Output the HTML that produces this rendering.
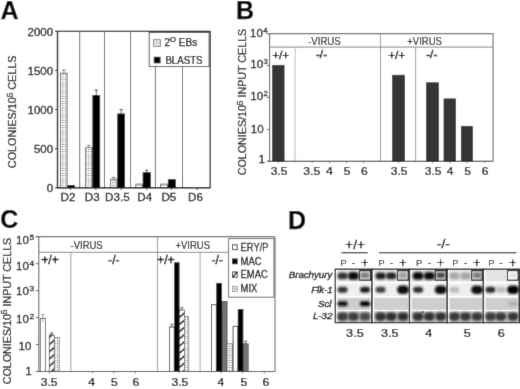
<!DOCTYPE html>
<html><head><meta charset="utf-8"><style>
html,body{margin:0;padding:0;background:#fff;width:520px;height:389px;overflow:hidden;}
svg{display:block;font-family:"Liberation Sans", sans-serif;will-change:transform;}
text{stroke:#000;stroke-width:0.25px;}
</style></head><body>
<svg width="520" height="389" viewBox="0 0 520 389" font-family='"Liberation Sans", sans-serif'>
<defs>
<pattern id="dots" width="2.6" height="2.4" patternUnits="userSpaceOnUse">
  <rect width="2.6" height="2.4" fill="#fff"/>
  <rect x="0" y="0" width="2.6" height="0.6" fill="#d4d4d4"/>
  <rect x="0" y="0" width="0.6" height="2.4" fill="#dedede"/>
  <rect x="0" y="0" width="1.0" height="0.9" fill="#666"/>
</pattern>
<pattern id="hatch" width="5.4" height="5.4" patternUnits="userSpaceOnUse" patternTransform="rotate(-41)">
  <rect width="5.4" height="5.4" fill="#fff"/>
  <rect x="0" y="0" width="5.4" height="1.5" fill="#111"/>
</pattern>
<pattern id="check" width="2" height="2" patternUnits="userSpaceOnUse">
  <rect width="2" height="2" fill="#8a8a8a"/>
  <rect width="1" height="1" fill="#555"/>
  <rect x="1" y="1" width="1" height="1" fill="#606060"/>
</pattern>
<filter id="blur1" x="-50%" y="-50%" width="200%" height="200%"><feGaussianBlur stdDeviation="0.9"/></filter>
<filter id="blur05"><feGaussianBlur stdDeviation="0.5"/></filter>
<filter id="gb" x="0" y="0" width="520" height="389" filterUnits="userSpaceOnUse"><feConvolveMatrix order="3" kernelMatrix="0.01134 0.08382 0.01134 0.08382 0.61935 0.08382 0.01134 0.08382 0.01134" edgeMode="duplicate"/></filter></defs>
<g filter="url(#gb)"><rect width="520" height="389" fill="#fff"/><text x="0.5" y="18.6" font-size="25" text-anchor="start" font-weight="bold" font-style="normal" fill="#000" >A</text>
<text transform="translate(16.2,111.8) rotate(-90)" font-size="10.8" text-anchor="middle">COLONIES/10<tspan font-size="8.4" dy="-3.4">5</tspan><tspan dy="3.4"> CELLS</tspan></text>
<line x1="55" y1="187.7" x2="57.5" y2="187.7" stroke="#000" stroke-width="1"/>
<text transform="translate(53.0,192.2) scale(1.04,1)" font-size="11" text-anchor="end" font-weight="normal" font-style="normal" fill="#000" >0</text>
<line x1="55" y1="148.6" x2="57.5" y2="148.6" stroke="#000" stroke-width="1"/>
<text transform="translate(53.0,153.1) scale(1.04,1)" font-size="11" text-anchor="end" font-weight="normal" font-style="normal" fill="#000" >500</text>
<line x1="55" y1="109.5" x2="57.5" y2="109.5" stroke="#000" stroke-width="1"/>
<text transform="translate(53.0,114.0) scale(1.04,1)" font-size="11" text-anchor="end" font-weight="normal" font-style="normal" fill="#000" >1000</text>
<line x1="55" y1="70.4" x2="57.5" y2="70.4" stroke="#000" stroke-width="1"/>
<text transform="translate(53.0,74.9) scale(1.04,1)" font-size="11" text-anchor="end" font-weight="normal" font-style="normal" fill="#000" >1500</text>
<line x1="55" y1="31.30000000000001" x2="57.5" y2="31.30000000000001" stroke="#000" stroke-width="1"/>
<text transform="translate(53.0,35.80000000000001) scale(1.04,1)" font-size="11" text-anchor="end" font-weight="normal" font-style="normal" fill="#000" >2000</text>
<line x1="79.7" y1="31.3" x2="79.7" y2="187.7" stroke="#666" stroke-width="1.0"/>
<line x1="104.5" y1="31.3" x2="104.5" y2="187.7" stroke="#666" stroke-width="1.0"/>
<line x1="130.5" y1="31.3" x2="130.5" y2="187.7" stroke="#666" stroke-width="1.0"/>
<line x1="155.4" y1="31.3" x2="155.4" y2="187.7" stroke="#666" stroke-width="1.0"/>
<line x1="182.5" y1="31.3" x2="182.5" y2="187.7" stroke="#666" stroke-width="1.0"/>
<rect x="60.5" y="73.2" width="6.599999999999994" height="114.49999999999999" fill="url(#dots)" stroke="#555" stroke-width="0.8" />
<line x1="63.8" y1="70.1" x2="63.8" y2="73.2" stroke="#666" stroke-width="0.8"/>
<line x1="62.0" y1="70.1" x2="65.6" y2="70.1" stroke="#666" stroke-width="0.9"/>
<rect x="67.5" y="185.1" width="7.5" height="2.5999999999999943" fill="#000" stroke="none" stroke-width="1" />
<rect x="85.4" y="147.7" width="6.599999999999994" height="40.0" fill="url(#dots)" stroke="#555" stroke-width="0.8" />
<line x1="88.7" y1="145.4" x2="88.7" y2="147.7" stroke="#666" stroke-width="0.8"/>
<line x1="86.9" y1="145.4" x2="90.5" y2="145.4" stroke="#666" stroke-width="0.9"/>
<rect x="92.4" y="95.0" width="7.699999999999989" height="92.69999999999999" fill="#000" stroke="none" stroke-width="1" />
<line x1="96.25" y1="90.0" x2="96.25" y2="95.0" stroke="#444" stroke-width="0.9"/>
<line x1="94.45" y1="90.0" x2="98.05" y2="90.0" stroke="#444" stroke-width="0.9"/>
<rect x="110.4" y="179.2" width="6.499999999999986" height="8.5" fill="url(#dots)" stroke="#555" stroke-width="0.8" />
<line x1="113.65" y1="177.4" x2="113.65" y2="179.2" stroke="#666" stroke-width="0.8"/>
<line x1="111.85000000000001" y1="177.4" x2="115.45" y2="177.4" stroke="#666" stroke-width="0.9"/>
<rect x="117.3" y="113.5" width="7.700000000000003" height="74.19999999999999" fill="#000" stroke="none" stroke-width="1" />
<line x1="121.15" y1="109.5" x2="121.15" y2="113.5" stroke="#444" stroke-width="0.9"/>
<line x1="119.35000000000001" y1="109.5" x2="122.95" y2="109.5" stroke="#444" stroke-width="0.9"/>
<rect x="135.8" y="184.1" width="6.499999999999972" height="3.5999999999999943" fill="url(#dots)" stroke="#555" stroke-width="0.8" />
<rect x="142.7" y="172.2" width="8.100000000000023" height="15.5" fill="#000" stroke="none" stroke-width="1" />
<line x1="146.75" y1="170.2" x2="146.75" y2="172.2" stroke="#444" stroke-width="0.9"/>
<line x1="144.95" y1="170.2" x2="148.55" y2="170.2" stroke="#444" stroke-width="0.9"/>
<rect x="160.6" y="184.1" width="6.900000000000006" height="3.5999999999999943" fill="url(#dots)" stroke="#555" stroke-width="0.8" />
<rect x="167.9" y="179.2" width="7.900000000000006" height="8.5" fill="#000" stroke="none" stroke-width="1" />
<line x1="57.5" y1="31.2" x2="57.5" y2="188.2" stroke="#000" stroke-width="1.4"/>
<line x1="57" y1="31.3" x2="210.5" y2="31.3" stroke="#000" stroke-width="1.3"/>
<line x1="210.2" y1="31.3" x2="210.2" y2="187.7" stroke="#111" stroke-width="1.2"/>
<line x1="57" y1="187.7" x2="210.5" y2="187.7" stroke="#000" stroke-width="1.4"/>
<line x1="70.4" y1="187.7" x2="70.4" y2="189.89999999999998" stroke="#000" stroke-width="0.8"/>
<line x1="95.8" y1="187.7" x2="95.8" y2="189.89999999999998" stroke="#000" stroke-width="0.8"/>
<line x1="121.2" y1="187.7" x2="121.2" y2="189.89999999999998" stroke="#000" stroke-width="0.8"/>
<line x1="146.6" y1="187.7" x2="146.6" y2="189.89999999999998" stroke="#000" stroke-width="0.8"/>
<line x1="171.5" y1="187.7" x2="171.5" y2="189.89999999999998" stroke="#000" stroke-width="0.8"/>
<line x1="197.3" y1="187.7" x2="197.3" y2="189.89999999999998" stroke="#000" stroke-width="0.8"/>
<text transform="translate(60.5,201.3) scale(1.06,1)" font-size="11" text-anchor="start" font-weight="normal" font-style="normal" fill="#000" >D2</text>
<text transform="translate(84.8,201.3) scale(1.06,1)" font-size="11" text-anchor="start" font-weight="normal" font-style="normal" fill="#000" >D3</text>
<text transform="translate(105.1,201.3) scale(1.06,1)" font-size="11" text-anchor="start" font-weight="normal" font-style="normal" fill="#000" >D3.5</text>
<text transform="translate(137.3,201.3) scale(1.06,1)" font-size="11" text-anchor="start" font-weight="normal" font-style="normal" fill="#000" >D4</text>
<text transform="translate(161.4,201.3) scale(1.06,1)" font-size="11" text-anchor="start" font-weight="normal" font-style="normal" fill="#000" >D5</text>
<text transform="translate(188.0,201.3) scale(1.06,1)" font-size="11" text-anchor="start" font-weight="normal" font-style="normal" fill="#000" >D6</text>
<rect x="149.2" y="32.5" width="59.900000000000006" height="34.099999999999994" fill="#fff" stroke="#444" stroke-width="0.9" />
<rect x="153.6" y="39.7" width="6.800000000000011" height="6.599999999999994" fill="url(#dots)" stroke="#666" stroke-width="0.8" />
<text x="164.4" y="45.9" font-size="10" text-anchor="start" font-weight="normal" font-style="normal" fill="#000" >2<tspan font-size="7.8" dy="-4.0">O</tspan><tspan dy="4.0"> EBs</tspan></text>
<rect x="153.8" y="56.8" width="6.699999999999989" height="6.5" fill="#000" stroke="none" stroke-width="1" />
<text transform="translate(165.4,63.5) scale(0.97,1)" font-size="10" text-anchor="start" font-weight="normal" font-style="normal" fill="#000" >BLASTS</text>
<text x="236.0" y="18.9" font-size="25" text-anchor="start" font-weight="bold" font-style="normal" fill="#000" >B</text>
<text transform="translate(246.0,102.0) rotate(-90)" font-size="10.7" text-anchor="middle">COLONIES/10<tspan font-size="8.4" dy="-3.4">5</tspan><tspan dy="3.4"> INPUT CELLS</tspan></text>
<line x1="267.1" y1="33.6" x2="269.6" y2="33.6" stroke="#333" stroke-width="0.9"/>
<line x1="267.1" y1="65.525" x2="269.6" y2="65.525" stroke="#333" stroke-width="0.9"/>
<line x1="267.1" y1="97.45000000000002" x2="269.6" y2="97.45000000000002" stroke="#333" stroke-width="0.9"/>
<line x1="267.1" y1="129.375" x2="269.6" y2="129.375" stroke="#333" stroke-width="0.9"/>
<line x1="267.1" y1="161.3" x2="269.6" y2="161.3" stroke="#333" stroke-width="0.9"/>
<text transform="translate(250.1,36.8) scale(1.05,1)" font-size="11" text-anchor="start" font-weight="normal" font-style="normal" fill="#000" >10<tspan font-size="7.4" dx="0.3" dy="-3.9">4</tspan></text>
<text transform="translate(250.3,67.5) scale(1.05,1)" font-size="11" text-anchor="start" font-weight="normal" font-style="normal" fill="#000" >10<tspan font-size="7.4" dx="0.3" dy="-3.9">3</tspan></text>
<text transform="translate(250.3,99.6) scale(1.05,1)" font-size="11" text-anchor="start" font-weight="normal" font-style="normal" fill="#000" >10<tspan font-size="7.4" dx="0.3" dy="-3.9">2</tspan></text>
<text transform="translate(263.6,132.6) scale(1.05,1)" font-size="11" text-anchor="end" font-weight="normal" font-style="normal" fill="#000" >10</text>
<text transform="translate(264.8,163.1) scale(1.05,1)" font-size="11" text-anchor="end" font-weight="normal" font-style="normal" fill="#000" >1</text>
<rect x="272.5" y="65.3" width="11.599999999999966" height="96.00000000000001" fill="#353535" stroke="#1e1e1e" stroke-width="0.7" />
<rect x="392.6" y="75.2" width="11.999999999999943" height="86.10000000000001" fill="#353535" stroke="#1e1e1e" stroke-width="0.7" />
<rect x="426.40000000000003" y="82.8" width="12.199999999999932" height="78.50000000000001" fill="#353535" stroke="#1e1e1e" stroke-width="0.7" />
<rect x="444.0" y="98.89999999999999" width="11.599999999999966" height="62.40000000000002" fill="#353535" stroke="#1e1e1e" stroke-width="0.7" />
<rect x="461.3" y="126.3" width="11.299999999999955" height="35.000000000000014" fill="#353535" stroke="#1e1e1e" stroke-width="0.7" />
<line x1="295.1" y1="47.1" x2="295.1" y2="161.3" stroke="#bbb" stroke-width="1"/>
<line x1="415.6" y1="47.1" x2="415.6" y2="161.3" stroke="#999" stroke-width="0.9"/>
<line x1="380.5" y1="33.6" x2="380.5" y2="161.3" stroke="#999" stroke-width="1"/>
<line x1="269.6" y1="33.6" x2="269.6" y2="161.3" stroke="#444" stroke-width="1"/>
<line x1="267.1" y1="33.6" x2="493.1" y2="33.6" stroke="#666" stroke-width="1.2"/>
<line x1="269.6" y1="47.1" x2="493.1" y2="47.1" stroke="#777" stroke-width="0.9"/>
<line x1="493.1" y1="33.6" x2="493.1" y2="161.3" stroke="#777" stroke-width="1.2"/>
<line x1="267.6" y1="161.3" x2="493.1" y2="161.3" stroke="#222" stroke-width="1.1"/>
<line x1="278.5" y1="161.3" x2="278.5" y2="163.10000000000002" stroke="#555" stroke-width="0.8"/>
<line x1="312.2" y1="161.3" x2="312.2" y2="163.10000000000002" stroke="#555" stroke-width="0.8"/>
<line x1="329.6" y1="161.3" x2="329.6" y2="163.10000000000002" stroke="#555" stroke-width="0.8"/>
<line x1="346.5" y1="161.3" x2="346.5" y2="163.10000000000002" stroke="#555" stroke-width="0.8"/>
<line x1="363.5" y1="161.3" x2="363.5" y2="163.10000000000002" stroke="#555" stroke-width="0.8"/>
<line x1="398.6" y1="161.3" x2="398.6" y2="163.10000000000002" stroke="#555" stroke-width="0.8"/>
<line x1="432.5" y1="161.3" x2="432.5" y2="163.10000000000002" stroke="#555" stroke-width="0.8"/>
<line x1="449.8" y1="161.3" x2="449.8" y2="163.10000000000002" stroke="#555" stroke-width="0.8"/>
<line x1="467" y1="161.3" x2="467" y2="163.10000000000002" stroke="#555" stroke-width="0.8"/>
<line x1="484.6" y1="161.3" x2="484.6" y2="163.10000000000002" stroke="#555" stroke-width="0.8"/>
<text transform="translate(324.4,44.8) scale(0.96,1)" font-size="10" text-anchor="middle" font-weight="normal" font-style="normal" fill="#000" style="stroke-width:0.12px">-VIRUS</text>
<text transform="translate(424.6,44.8) scale(0.95,1)" font-size="10" text-anchor="middle" font-weight="normal" font-style="normal" fill="#000" style="stroke-width:0.12px">+VIRUS</text>
<text x="280.7" y="58.6" font-size="11.8" text-anchor="middle" font-weight="normal" font-style="normal" fill="#000" style="stroke-width:0.38px">+/+</text>
<text x="321.5" y="57.8" font-size="11.8" text-anchor="middle" font-weight="normal" font-style="normal" fill="#000" style="stroke-width:0.38px">-/-</text>
<text x="396.7" y="58.6" font-size="11.8" text-anchor="middle" font-weight="normal" font-style="normal" fill="#000" style="stroke-width:0.38px">+/+</text>
<text x="431.75" y="57.8" font-size="11.8" text-anchor="middle" font-weight="normal" font-style="normal" fill="#000" style="stroke-width:0.38px">-/-</text>
<text transform="translate(279.05,174.8) scale(1.1,1)" font-size="11" text-anchor="middle" font-weight="normal" font-style="normal" fill="#000" >3.5</text>
<text transform="translate(311.75,174.8) scale(1.1,1)" font-size="11" text-anchor="middle" font-weight="normal" font-style="normal" fill="#000" >3.5</text>
<text transform="translate(329.45,174.8) scale(1.1,1)" font-size="11" text-anchor="middle" font-weight="normal" font-style="normal" fill="#000" >4</text>
<text transform="translate(347.15,174.8) scale(1.1,1)" font-size="11" text-anchor="middle" font-weight="normal" font-style="normal" fill="#000" >5</text>
<text transform="translate(364.4,174.8) scale(1.1,1)" font-size="11" text-anchor="middle" font-weight="normal" font-style="normal" fill="#000" >6</text>
<text transform="translate(399.1,174.8) scale(1.1,1)" font-size="11" text-anchor="middle" font-weight="normal" font-style="normal" fill="#000" >3.5</text>
<text transform="translate(433.1,174.8) scale(1.1,1)" font-size="11" text-anchor="middle" font-weight="normal" font-style="normal" fill="#000" >3.5</text>
<text transform="translate(450.1,174.8) scale(1.1,1)" font-size="11" text-anchor="middle" font-weight="normal" font-style="normal" fill="#000" >4</text>
<text transform="translate(467.7,174.8) scale(1.1,1)" font-size="11" text-anchor="middle" font-weight="normal" font-style="normal" fill="#000" >5</text>
<text transform="translate(485.05,174.8) scale(1.1,1)" font-size="11" text-anchor="middle" font-weight="normal" font-style="normal" fill="#000" >6</text>
<text x="0.2" y="228.0" font-size="25" text-anchor="start" font-weight="bold" font-style="normal" fill="#000" >C</text>
<text transform="translate(10.7,311.0) rotate(-90)" font-size="10.7" text-anchor="middle">COLONIES/10<tspan font-size="8.4" dy="-3.4">5</tspan><tspan dy="3.4"> INPUT CELLS</tspan></text>
<line x1="35.8" y1="236.7" x2="38.8" y2="236.7" stroke="#444" stroke-width="0.9"/>
<line x1="35.8" y1="263.65999999999997" x2="38.8" y2="263.65999999999997" stroke="#444" stroke-width="0.9"/>
<line x1="35.8" y1="290.62" x2="38.8" y2="290.62" stroke="#444" stroke-width="0.9"/>
<line x1="35.8" y1="317.58" x2="38.8" y2="317.58" stroke="#444" stroke-width="0.9"/>
<line x1="35.8" y1="344.53999999999996" x2="38.8" y2="344.53999999999996" stroke="#444" stroke-width="0.9"/>
<line x1="35.8" y1="371.5" x2="38.8" y2="371.5" stroke="#444" stroke-width="0.9"/>
<text transform="translate(16.0,244.2) scale(1.05,1)" font-size="11" text-anchor="start" font-weight="normal" font-style="normal" fill="#000" >10<tspan font-size="8" dx="0.6" dy="-4.2">5</tspan></text>
<text transform="translate(16.0,269.8) scale(1.05,1)" font-size="11" text-anchor="start" font-weight="normal" font-style="normal" fill="#000" >10<tspan font-size="8" dx="0.6" dy="-4.2">4</tspan></text>
<text transform="translate(16.0,295.1) scale(1.05,1)" font-size="11" text-anchor="start" font-weight="normal" font-style="normal" fill="#000" >10<tspan font-size="8" dx="0.6" dy="-4.2">3</tspan></text>
<text transform="translate(16.0,322.7) scale(1.05,1)" font-size="11" text-anchor="start" font-weight="normal" font-style="normal" fill="#000" >10<tspan font-size="8" dx="0.6" dy="-4.2">2</tspan></text>
<text transform="translate(31.4,350.3) scale(1.05,1)" font-size="11" text-anchor="end" font-weight="normal" font-style="normal" fill="#000" >10</text>
<text transform="translate(31.6,374.6) scale(1.05,1)" font-size="11" text-anchor="end" font-weight="normal" font-style="normal" fill="#000" >1</text>
<rect x="40.3" y="318.4" width="5.100000000000001" height="53.10000000000002" fill="#fff" stroke="#555" stroke-width="0.9" />
<line x1="42.8" y1="314.6" x2="42.8" y2="318.4" stroke="#777" stroke-width="0.8"/>
<line x1="41.3" y1="314.6" x2="44.3" y2="314.6" stroke="#777" stroke-width="0.9"/>
<line x1="42.8" y1="318.4" x2="42.8" y2="322.2" stroke="#888" stroke-width="0.7"/>
<rect x="49.2" y="334.9" width="5.0" height="36.60000000000002" fill="url(#hatch)" stroke="#222" stroke-width="0.6" />
<line x1="51.7" y1="332.8" x2="51.7" y2="334.9" stroke="#444" stroke-width="0.8"/>
<line x1="50.2" y1="332.8" x2="53.2" y2="332.8" stroke="#444" stroke-width="0.9"/>
<rect x="54.2" y="337.5" width="5.0" height="34.0" fill="url(#dots)" stroke="#555" stroke-width="0.6" />
<rect x="169.4" y="327.0" width="4.799999999999983" height="44.5" fill="#fff" stroke="#222" stroke-width="0.8" />
<line x1="171.8" y1="324.3" x2="171.8" y2="327.0" stroke="#444" stroke-width="0.8"/>
<line x1="170.3" y1="324.3" x2="173.3" y2="324.3" stroke="#444" stroke-width="0.9"/>
<rect x="174.2" y="262.3" width="5.300000000000011" height="109.19999999999999" fill="#000" stroke="none" stroke-width="1" />
<rect x="179.5" y="310.0" width="4.800000000000011" height="61.5" fill="url(#hatch)" stroke="#222" stroke-width="0.6" />
<line x1="181.9" y1="307.6" x2="181.9" y2="310.0" stroke="#444" stroke-width="0.8"/>
<line x1="180.4" y1="307.6" x2="183.4" y2="307.6" stroke="#444" stroke-width="0.9"/>
<rect x="184.3" y="316.5" width="4.5" height="55.0" fill="url(#dots)" stroke="#555" stroke-width="0.6" />
<rect x="211.6" y="304.7" width="4.700000000000017" height="66.80000000000001" fill="#fff" stroke="#222" stroke-width="0.8" />
<rect x="216.3" y="282.9" width="5.699999999999989" height="88.60000000000002" fill="#000" stroke="none" stroke-width="1" />
<rect x="222.0" y="301.3" width="5.099999999999994" height="70.19999999999999" fill="url(#check)" stroke="#333" stroke-width="0.6" />
<rect x="227.1" y="343.8" width="5.300000000000011" height="27.69999999999999" fill="url(#dots)" stroke="#555" stroke-width="0.6" />
<rect x="233.1" y="326.3" width="4.700000000000017" height="45.19999999999999" fill="#fff" stroke="#222" stroke-width="0.8" />
<rect x="237.8" y="309.0" width="5.5" height="62.5" fill="#000" stroke="none" stroke-width="1" />
<rect x="243.3" y="343.8" width="4.899999999999977" height="27.69999999999999" fill="url(#check)" stroke="#333" stroke-width="0.6" />
<line x1="245.7" y1="341.3" x2="245.7" y2="343.8" stroke="#444" stroke-width="0.8"/>
<line x1="244.2" y1="341.3" x2="247.2" y2="341.3" stroke="#444" stroke-width="0.9"/>
<line x1="70.8" y1="252.3" x2="70.8" y2="371.5" stroke="#999" stroke-width="1"/>
<line x1="200.1" y1="252.3" x2="200.1" y2="371.5" stroke="#aaa" stroke-width="1"/>
<line x1="157.5" y1="236.7" x2="157.5" y2="371.5" stroke="#999" stroke-width="1"/>
<line x1="38.8" y1="236.7" x2="38.8" y2="371.5" stroke="#555" stroke-width="1"/>
<line x1="35.8" y1="236.7" x2="275.0" y2="236.7" stroke="#666" stroke-width="1.2"/>
<line x1="38.8" y1="252.3" x2="275.0" y2="252.3" stroke="#777" stroke-width="0.9"/>
<line x1="275.0" y1="236.7" x2="275.0" y2="371.5" stroke="#777" stroke-width="1.2"/>
<line x1="36.8" y1="371.5" x2="275.0" y2="371.5" stroke="#333" stroke-width="1.1"/>
<line x1="49.5" y1="371.5" x2="49.5" y2="373.3" stroke="#555" stroke-width="0.8"/>
<line x1="92.5" y1="371.5" x2="92.5" y2="373.3" stroke="#555" stroke-width="0.8"/>
<line x1="113.8" y1="371.5" x2="113.8" y2="373.3" stroke="#555" stroke-width="0.8"/>
<line x1="135.4" y1="371.5" x2="135.4" y2="373.3" stroke="#555" stroke-width="0.8"/>
<line x1="179" y1="371.5" x2="179" y2="373.3" stroke="#555" stroke-width="0.8"/>
<line x1="221" y1="371.5" x2="221" y2="373.3" stroke="#555" stroke-width="0.8"/>
<line x1="242.5" y1="371.5" x2="242.5" y2="373.3" stroke="#555" stroke-width="0.8"/>
<line x1="264.3" y1="371.5" x2="264.3" y2="373.3" stroke="#555" stroke-width="0.8"/>
<text transform="translate(86.6,248.8) scale(0.95,1)" font-size="10" text-anchor="middle" font-weight="normal" font-style="normal" fill="#000" style="stroke-width:0.12px">-VIRUS</text>
<text transform="translate(192.7,248.8) scale(0.95,1)" font-size="10" text-anchor="middle" font-weight="normal" font-style="normal" fill="#000" style="stroke-width:0.12px">+VIRUS</text>
<text x="50.05" y="263.7" font-size="12.2" text-anchor="middle" font-weight="normal" font-style="normal" fill="#000" style="stroke-width:0.35px">+/+</text>
<text x="113.85" y="263.7" font-size="12.2" text-anchor="middle" font-weight="normal" font-style="normal" fill="#000" style="stroke-width:0.35px">-/-</text>
<text x="165.9" y="263.7" font-size="12.2" text-anchor="middle" font-weight="normal" font-style="normal" fill="#000" style="stroke-width:0.35px">+/+</text>
<text x="217.25" y="263.7" font-size="12.2" text-anchor="middle" font-weight="normal" font-style="normal" fill="#000" style="stroke-width:0.35px">-/-</text>
<text transform="translate(49.2,385.9) scale(1.1,1)" font-size="11" text-anchor="middle" font-weight="normal" font-style="normal" fill="#000" >3.5</text>
<text transform="translate(91.6,385.9) scale(1.1,1)" font-size="11" text-anchor="middle" font-weight="normal" font-style="normal" fill="#000" >4</text>
<text transform="translate(114.4,385.9) scale(1.1,1)" font-size="11" text-anchor="middle" font-weight="normal" font-style="normal" fill="#000" >5</text>
<text transform="translate(135.75,385.9) scale(1.1,1)" font-size="11" text-anchor="middle" font-weight="normal" font-style="normal" fill="#000" >6</text>
<text transform="translate(179.9,385.9) scale(1.1,1)" font-size="11" text-anchor="middle" font-weight="normal" font-style="normal" fill="#000" >3.5</text>
<text transform="translate(220.8,385.9) scale(1.1,1)" font-size="11" text-anchor="middle" font-weight="normal" font-style="normal" fill="#000" >4</text>
<text transform="translate(243.8,385.9) scale(1.1,1)" font-size="11" text-anchor="middle" font-weight="normal" font-style="normal" fill="#000" >5</text>
<text transform="translate(265.9,385.9) scale(1.1,1)" font-size="11" text-anchor="middle" font-weight="normal" font-style="normal" fill="#000" >6</text>
<rect x="228.6" y="238.6" width="45.400000000000006" height="58.599999999999994" fill="#fff" stroke="#555" stroke-width="0.9" />
<rect x="232.5" y="244.8" width="4.699999999999989" height="4.799999999999983" fill="#fff" stroke="#222" stroke-width="0.9" />
<text transform="translate(240.6,251.0) scale(0.87,1)" font-size="10.8" text-anchor="start" font-weight="normal" font-style="normal" fill="#000" >ERY/P</text>
<rect x="232.1" y="258.5" width="5.5" height="5.699999999999989" fill="#000" stroke="none" stroke-width="1" />
<text transform="translate(240.6,264.5) scale(0.87,1)" font-size="10.8" text-anchor="start" font-weight="normal" font-style="normal" fill="#000" >MAC</text>
<rect x="232.5" y="272.0" width="4.699999999999989" height="5.300000000000011" fill="#fff" stroke="#222" stroke-width="0.9" />
<line x1="232.5" y1="277.3" x2="237.2" y2="272.0" stroke="#000" stroke-width="1.3"/>
<text transform="translate(240.6,278.4) scale(0.87,1)" font-size="10.8" text-anchor="start" font-weight="normal" font-style="normal" fill="#000" >EMAC</text>
<rect x="232.5" y="286.3" width="4.699999999999989" height="5.099999999999966" fill="#fff" stroke="#888" stroke-width="0.8" />
<line x1="234.85" y1="286.3" x2="234.85" y2="291.4" stroke="#999" stroke-width="0.7"/>
<line x1="232.5" y1="288.85" x2="237.2" y2="288.85" stroke="#999" stroke-width="0.7"/>
<text transform="translate(240.6,292.3) scale(0.87,1)" font-size="10.8" text-anchor="start" font-weight="normal" font-style="normal" fill="#000" >MIX</text>
<text x="288.0" y="228.5" font-size="25" text-anchor="start" font-weight="bold" font-style="normal" fill="#000" >D</text>
<text transform="translate(355.2,248.7) scale(1.05,1)" font-size="13" text-anchor="middle" font-weight="normal" font-style="normal" fill="#000" style="stroke-width:0.28px">+/+</text>
<line x1="341.5" y1="252.7" x2="367.6" y2="252.7" stroke="#000" stroke-width="1.1"/>
<text transform="translate(443.35,248.4) scale(1.05,1)" font-size="13" text-anchor="middle" font-weight="normal" font-style="normal" fill="#000" style="stroke-width:0.28px">-/-</text>
<line x1="379.0" y1="252.7" x2="516.4" y2="252.7" stroke="#000" stroke-width="1.1"/>
<text x="343.5" y="266.1" font-size="9.2" text-anchor="middle" font-weight="normal" font-style="normal" fill="#000" style="stroke-width:0.05px">P</text>
<text x="353.5" y="266.0" font-size="10" text-anchor="middle" font-weight="normal" font-style="normal" fill="#000" >-</text>
<text x="364.7" y="267.1" font-size="12" text-anchor="middle" font-weight="normal" font-style="normal" fill="#000" >+</text>
<text x="381.5" y="266.1" font-size="9.2" text-anchor="middle" font-weight="normal" font-style="normal" fill="#000" style="stroke-width:0.05px">P</text>
<text x="391.3" y="266.0" font-size="10" text-anchor="middle" font-weight="normal" font-style="normal" fill="#000" >-</text>
<text x="402.7" y="267.1" font-size="12" text-anchor="middle" font-weight="normal" font-style="normal" fill="#000" >+</text>
<text x="419.0" y="266.1" font-size="9.2" text-anchor="middle" font-weight="normal" font-style="normal" fill="#000" style="stroke-width:0.05px">P</text>
<text x="429.40000000000003" y="266.0" font-size="10" text-anchor="middle" font-weight="normal" font-style="normal" fill="#000" >-</text>
<text x="440.4" y="267.1" font-size="12" text-anchor="middle" font-weight="normal" font-style="normal" fill="#000" >+</text>
<text x="455.4" y="266.1" font-size="9.2" text-anchor="middle" font-weight="normal" font-style="normal" fill="#000" style="stroke-width:0.05px">P</text>
<text x="465.70000000000005" y="266.0" font-size="10" text-anchor="middle" font-weight="normal" font-style="normal" fill="#000" >-</text>
<text x="476.8" y="267.1" font-size="12" text-anchor="middle" font-weight="normal" font-style="normal" fill="#000" >+</text>
<text x="491.4" y="266.1" font-size="9.2" text-anchor="middle" font-weight="normal" font-style="normal" fill="#000" style="stroke-width:0.05px">P</text>
<text x="500.90000000000003" y="266.0" font-size="10" text-anchor="middle" font-weight="normal" font-style="normal" fill="#000" >-</text>
<text x="512.7" y="267.1" font-size="12" text-anchor="middle" font-weight="normal" font-style="normal" fill="#000" >+</text>
<text x="332.3" y="277.8" font-size="9.7" text-anchor="end" font-weight="normal" font-style="italic" fill="#000" style="stroke-width:0.35px">Brachyury</text>
<text x="332.7" y="293.3" font-size="9.7" text-anchor="end" font-weight="normal" font-style="italic" fill="#000" style="stroke-width:0.35px">Flk-1</text>
<text x="331.40000000000003" y="307.3" font-size="9.7" text-anchor="end" font-weight="normal" font-style="italic" fill="#000" style="stroke-width:0.35px">Scl</text>
<text x="332.3" y="319.4" font-size="9.7" text-anchor="end" font-weight="normal" font-style="italic" fill="#000" style="stroke-width:0.35px">L-32</text>
<text transform="translate(354.9,336.9) scale(1.15,1)" font-size="11" text-anchor="middle" font-weight="normal" font-style="normal" fill="#000" >3.5</text>
<text transform="translate(389.8,336.9) scale(1.15,1)" font-size="11" text-anchor="middle" font-weight="normal" font-style="normal" fill="#000" >3.5</text>
<text transform="translate(428.75,336.9) scale(1.15,1)" font-size="11" text-anchor="middle" font-weight="normal" font-style="normal" fill="#000" >4</text>
<text transform="translate(467.25,336.9) scale(1.15,1)" font-size="11" text-anchor="middle" font-weight="normal" font-style="normal" fill="#000" >5</text>
<text transform="translate(501.3,336.9) scale(1.15,1)" font-size="11" text-anchor="middle" font-weight="normal" font-style="normal" fill="#000" >6</text>
<rect x="335.3" y="269.2" width="36.69999999999999" height="53.400000000000034" fill="#fff" stroke="none" stroke-width="1" />
<rect x="337.5" y="270.3" width="33.0" height="11.300000000000011" fill="#e4e4e4" stroke="none" stroke-width="1" />
<rect x="337.5" y="283.4" width="33.0" height="12.600000000000023" fill="#efefef" stroke="none" stroke-width="1" />
<rect x="337.5" y="297.8" width="33.0" height="12.0" fill="#cecece" stroke="none" stroke-width="1" />
<rect x="337.5" y="311.4" width="33.0" height="10.400000000000034" fill="#bababa" stroke="none" stroke-width="1" />
<rect x="337.50" y="272.55" width="10.2" height="6.8" rx="3.40" fill="rgb(50,50,50)" filter="url(#blur1)"/>
<rect x="348.00" y="272.05" width="10.8" height="7.8" rx="3.90" fill="rgb(8,8,8)" filter="url(#blur1)"/>
<rect x="337.60" y="286.70" width="10.0" height="6.0" rx="3.00" fill="rgb(50,50,50)" filter="url(#blur1)"/>
<rect x="360.00" y="286.70" width="10.0" height="6.0" rx="3.00" fill="rgb(30,30,30)" filter="url(#blur1)"/>
<rect x="337.50" y="301.30" width="10.2" height="5.0" rx="2.50" fill="rgb(15,15,15)" filter="url(#blur1)"/>
<rect x="359.90" y="301.30" width="10.2" height="5.0" rx="2.50" fill="rgb(5,5,5)" filter="url(#blur1)"/>
<rect x="337.30" y="312.50" width="10.6" height="8.2" rx="4.10" fill="rgb(60,60,60)" filter="url(#blur1)"/>
<rect x="348.10" y="312.50" width="10.6" height="8.2" rx="4.10" fill="rgb(60,60,60)" filter="url(#blur1)"/>
<rect x="359.70" y="312.50" width="10.6" height="8.2" rx="4.10" fill="rgb(75,75,75)" filter="url(#blur1)"/>
<rect x="359.5" y="270.6" width="11.0" height="9.599999999999966" fill="#d8d8d8" stroke="#111" stroke-width="1.1" />
<rect x="360.70" y="272.60" width="8.6" height="5.4" rx="2.6" fill="rgb(125,125,125)" filter="url(#blur1)"/>
<rect x="335.3" y="269.2" width="36.69999999999999" height="53.400000000000034" fill="none" stroke="#111" stroke-width="1.3" />
<rect x="372.0" y="269.2" width="37.5" height="53.400000000000034" fill="#fff" stroke="none" stroke-width="1" />
<rect x="374.2" y="270.3" width="33.80000000000001" height="11.300000000000011" fill="#e4e4e4" stroke="none" stroke-width="1" />
<rect x="374.2" y="283.4" width="33.80000000000001" height="12.600000000000023" fill="#efefef" stroke="none" stroke-width="1" />
<rect x="374.2" y="297.8" width="33.80000000000001" height="12.0" fill="#cecece" stroke="none" stroke-width="1" />
<rect x="374.2" y="311.4" width="33.80000000000001" height="10.400000000000034" fill="#bababa" stroke="none" stroke-width="1" />
<rect x="375.50" y="272.55" width="10.2" height="6.8" rx="3.40" fill="rgb(30,30,30)" filter="url(#blur1)"/>
<rect x="386.10" y="272.55" width="10.2" height="6.8" rx="3.40" fill="rgb(35,35,35)" filter="url(#blur1)"/>
<rect x="375.60" y="286.70" width="10.0" height="6.0" rx="3.00" fill="rgb(65,65,65)" filter="url(#blur1)"/>
<rect x="397.00" y="285.40" width="12.0" height="8.6" rx="4.30" fill="rgb(8,8,8)" filter="url(#blur1)"/>
<rect x="375.30" y="312.50" width="10.6" height="8.2" rx="4.10" fill="rgb(50,50,50)" filter="url(#blur1)"/>
<rect x="385.90" y="312.50" width="10.6" height="8.2" rx="4.10" fill="rgb(45,45,45)" filter="url(#blur1)"/>
<rect x="397.70" y="312.50" width="10.6" height="8.2" rx="4.10" fill="rgb(45,45,45)" filter="url(#blur1)"/>
<rect x="397.5" y="270.6" width="10.800000000000011" height="9.599999999999966" fill="#d8d8d8" stroke="#111" stroke-width="1.1" />
<rect x="398.70" y="272.60" width="8.6" height="5.4" rx="2.6" fill="rgb(160,160,160)" filter="url(#blur1)"/>
<rect x="372.0" y="269.2" width="37.5" height="53.400000000000034" fill="none" stroke="#111" stroke-width="1.3" />
<rect x="409.5" y="269.2" width="37.80000000000001" height="53.400000000000034" fill="#fff" stroke="none" stroke-width="1" />
<rect x="411.7" y="270.3" width="34.10000000000002" height="11.300000000000011" fill="#e4e4e4" stroke="none" stroke-width="1" />
<rect x="411.7" y="283.4" width="34.10000000000002" height="12.600000000000023" fill="#efefef" stroke="none" stroke-width="1" />
<rect x="411.7" y="297.8" width="34.10000000000002" height="12.0" fill="#cecece" stroke="none" stroke-width="1" />
<rect x="411.7" y="311.4" width="34.10000000000002" height="10.400000000000034" fill="#bababa" stroke="none" stroke-width="1" />
<rect x="412.70" y="272.05" width="10.8" height="7.8" rx="3.90" fill="rgb(10,10,10)" filter="url(#blur1)"/>
<rect x="423.90" y="272.05" width="10.8" height="7.8" rx="3.90" fill="rgb(10,10,10)" filter="url(#blur1)"/>
<rect x="413.10" y="286.70" width="10.0" height="6.0" rx="3.00" fill="rgb(45,45,45)" filter="url(#blur1)"/>
<rect x="434.70" y="285.40" width="12.0" height="8.6" rx="4.30" fill="rgb(15,15,15)" filter="url(#blur1)"/>
<rect x="412.80" y="312.50" width="10.6" height="8.2" rx="4.10" fill="rgb(50,50,50)" filter="url(#blur1)"/>
<rect x="424.00" y="312.50" width="10.6" height="8.2" rx="4.10" fill="rgb(50,50,50)" filter="url(#blur1)"/>
<rect x="435.40" y="312.50" width="10.6" height="8.2" rx="4.10" fill="rgb(50,50,50)" filter="url(#blur1)"/>
<rect x="435.2" y="270.6" width="10.900000000000034" height="9.599999999999966" fill="#d8d8d8" stroke="#111" stroke-width="1.1" />
<rect x="436.40" y="272.60" width="8.6" height="5.4" rx="2.6" fill="rgb(70,70,70)" filter="url(#blur1)"/>
<rect x="409.5" y="269.2" width="37.80000000000001" height="53.400000000000034" fill="none" stroke="#111" stroke-width="1.3" />
<rect x="447.3" y="269.2" width="36.099999999999966" height="53.400000000000034" fill="#fff" stroke="none" stroke-width="1" />
<rect x="449.5" y="270.3" width="32.39999999999998" height="11.300000000000011" fill="#e4e4e4" stroke="none" stroke-width="1" />
<rect x="449.5" y="283.4" width="32.39999999999998" height="12.600000000000023" fill="#efefef" stroke="none" stroke-width="1" />
<rect x="449.5" y="297.8" width="32.39999999999998" height="12.0" fill="#cecece" stroke="none" stroke-width="1" />
<rect x="449.5" y="311.4" width="32.39999999999998" height="10.400000000000034" fill="#bababa" stroke="none" stroke-width="1" />
<rect x="449.40" y="272.55" width="10.2" height="6.8" rx="3.40" fill="rgb(170,170,170)" filter="url(#blur1)"/>
<rect x="460.50" y="272.55" width="10.2" height="6.8" rx="3.40" fill="rgb(165,165,165)" filter="url(#blur1)"/>
<rect x="449.50" y="286.70" width="10.0" height="6.0" rx="3.00" fill="rgb(190,190,190)" filter="url(#blur1)"/>
<rect x="471.10" y="285.40" width="12.0" height="8.6" rx="4.30" fill="rgb(15,15,15)" filter="url(#blur1)"/>
<rect x="449.20" y="312.50" width="10.6" height="8.2" rx="4.10" fill="rgb(55,55,55)" filter="url(#blur1)"/>
<rect x="460.30" y="312.50" width="10.6" height="8.2" rx="4.10" fill="rgb(55,55,55)" filter="url(#blur1)"/>
<rect x="471.80" y="312.50" width="10.6" height="8.2" rx="4.10" fill="rgb(55,55,55)" filter="url(#blur1)"/>
<rect x="471.6" y="270.6" width="10.599999999999966" height="9.599999999999966" fill="#d8d8d8" stroke="#111" stroke-width="1.1" />
<rect x="472.80" y="272.60" width="8.6" height="5.4" rx="2.6" fill="rgb(120,120,120)" filter="url(#blur1)"/>
<rect x="447.3" y="269.2" width="36.099999999999966" height="53.400000000000034" fill="none" stroke="#111" stroke-width="1.3" />
<rect x="483.4" y="269.2" width="35.80000000000007" height="53.400000000000034" fill="#fff" stroke="none" stroke-width="1" />
<rect x="485.59999999999997" y="270.3" width="32.10000000000008" height="11.300000000000011" fill="#e4e4e4" stroke="none" stroke-width="1" />
<rect x="485.59999999999997" y="283.4" width="32.10000000000008" height="12.600000000000023" fill="#efefef" stroke="none" stroke-width="1" />
<rect x="485.59999999999997" y="297.8" width="32.10000000000008" height="12.0" fill="#cecece" stroke="none" stroke-width="1" />
<rect x="485.59999999999997" y="311.4" width="32.10000000000008" height="10.400000000000034" fill="#bababa" stroke="none" stroke-width="1" />
<rect x="485.50" y="286.70" width="10.0" height="6.0" rx="3.00" fill="rgb(40,40,40)" filter="url(#blur1)"/>
<rect x="495.80" y="286.70" width="10.0" height="6.0" rx="3.00" fill="rgb(190,190,190)" filter="url(#blur1)"/>
<rect x="507.00" y="285.50" width="12.0" height="8.4" rx="4.20" fill="rgb(0,0,0)" filter="url(#blur1)"/>
<rect x="507.90" y="301.30" width="10.2" height="5.0" rx="2.50" fill="rgb(180,180,180)" filter="url(#blur1)"/>
<rect x="485.20" y="312.50" width="10.6" height="8.2" rx="4.10" fill="rgb(60,60,60)" filter="url(#blur1)"/>
<rect x="495.50" y="312.50" width="10.6" height="8.2" rx="4.10" fill="rgb(55,55,55)" filter="url(#blur1)"/>
<rect x="507.70" y="312.50" width="10.6" height="8.2" rx="4.10" fill="rgb(55,55,55)" filter="url(#blur1)"/>
<rect x="507.5" y="270.6" width="10.5" height="9.599999999999966" fill="#fff" stroke="#111" stroke-width="1.1" />
<rect x="508.70" y="272.60" width="8.6" height="5.4" rx="2.6" fill="rgb(228,228,228)" filter="url(#blur1)"/>
<rect x="483.4" y="269.2" width="35.80000000000007" height="53.400000000000034" fill="none" stroke="#111" stroke-width="1.3" />
<rect x="421.9" y="311.2" width="1.6" height="1.4" fill="#000"/></g></svg>
</body></html>
